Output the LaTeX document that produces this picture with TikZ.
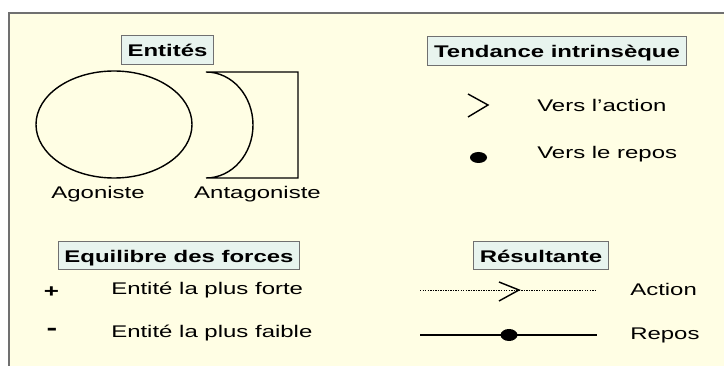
\documentclass[tikz,border=0pt]{standalone}
\usepackage{fontspec}
\setmainfont{Liberation Sans}[FakeStretch=1.42]
\usetikzlibrary{calc}
\definecolor{panel}{HTML}{FFFEE4}
\definecolor{tagfill}{HTML}{E8F4EE}
\definecolor{tagline}{HTML}{707070}

\begin{document}
\begin{tikzpicture}[x=0.025cm,y=0.025cm,font=\fontsize{12}{14}\selectfont,
    tag/.style={draw=tagline,fill=tagfill,line width=0.7pt,font=\fontsize{12}{14}\selectfont\bfseries,
      inner xsep=4.5pt,inner ysep=0pt,text height=15pt,text depth=5.2pt},
    lbl/.style={anchor=base west,inner sep=0pt},
    sym/.style={line width=1pt}]
  \useasboundingbox (0,0) rectangle (724,-366);
  \fill[white] (0,0) rectangle (724,-366);
  \fill[panel] (9,-13) rectangle (724,-366);
  \draw[tagline,line width=0.8pt] (9,-366) -- (9,-13) -- (724,-13);

  % titres
  \node[tag] (entites) at (167.5,-50) {Entités};
  \node[tag] (tendance) at (557,-51) {Tendance intrinsèque};
  \node[tag] (equilibre) at (179,-255.5) {Equilibre des forces};
  \node[tag] (resultante) at (541,-255.5) {Résultante};

  % entites
  \draw[sym] (114,-124.5) ellipse [x radius=78, y radius=53.5];
  \draw[sym] (206,-178) -- (298,-178) -- (298,-72) -- (206,-72)
    arc[start angle=90, end angle=-90, x radius=47, y radius=53];
  \node[anchor=base,inner sep=0pt] (agon) at (98,-199) {Agoniste};
  \node[anchor=base,inner sep=0pt] (antagon) at (257.5,-199) {Antagoniste};

  % tendance
  \draw[sym] (468,-94) -- (488,-105) -- (468,-117);
  \fill (478.5,-157.5) ellipse [x radius=8.5, y radius=5.5];
  \node[lbl] (versact) at (537,-112) {Vers l'action};
  \node[lbl] (versrep) at (537,-159) {Vers le repos};

  % equilibre
  \node[font=\fontsize{13}{14}\selectfont\bfseries,inner sep=0pt] (plus) at (51.5,-292) {+};
  \node[font=\fontsize{16}{16}\selectfont\bfseries,inner sep=0pt] (moins) at (52,-332) {-};
  \node[lbl] (forte) at (111,-295) {Entité la plus forte};
  \node[lbl] (faible) at (111,-337) {Entité la plus faible};

  % resultante
  \coordinate (acta) at (420,-290);
  \coordinate (actb) at (597,-290);
  \coordinate (actm) at (519,-290);
  \draw[line width=0.6pt,dash pattern=on 1pt off 0.8pt] (acta) -- (actb);
  \draw[sym] ([shift={(-20,8)}]actm) -- (actm) -- ([shift={(-20,-11)}]actm);
  \coordinate (repa) at (420,-335);
  \coordinate (repb) at (597,-335);
  \draw[line width=0.9pt] (repa) -- (repb);
  \fill (509,-335) ellipse [x radius=8.5, y radius=6];
  \node[lbl] (action) at (630,-296) {Action};
  \node[lbl] (repos) at (630,-340) {Repos};
\end{tikzpicture}
\end{document}
